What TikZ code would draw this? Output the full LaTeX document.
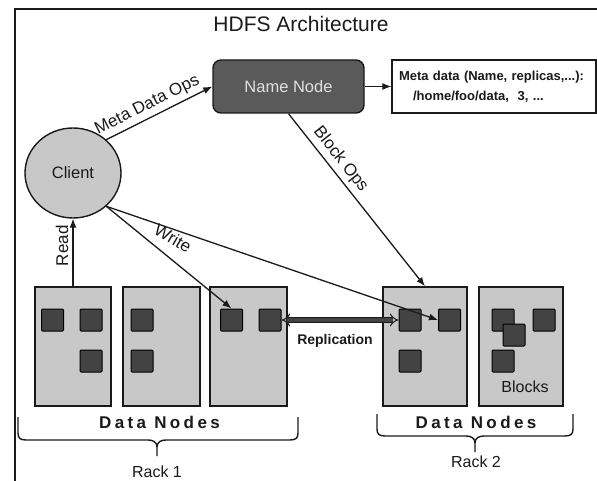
\documentclass[tikz,border=0pt]{standalone}
\usepackage{fontspec}
\setmainfont{Liberation Sans}
\usetikzlibrary{shapes.geometric,arrows.meta}
\definecolor{boxgray}{HTML}{C8C8C8}
\definecolor{blockgray}{HTML}{434343}
\definecolor{nngray}{HTML}{5A5A5A}
\definecolor{ink}{HTML}{1A1A1A}
\begin{document}
\begin{tikzpicture}[x=1pt,y=-1pt,
  frame/.style={draw=ink,line width=1.5pt},
  arr/.style={draw=ink,line width=1.3pt,-{Latex[length=9pt,width=7pt]}},
  dnode/.style={draw=ink,line width=1.4pt,fill=boxgray,minimum height=119pt,inner sep=0pt},
  blk/.style={draw=black,line width=1pt,fill=blockgray,minimum size=22pt,inner sep=0pt,rounded corners=1pt},
  lbl/.style={font=\fontsize{16}{19}\selectfont,text=ink,inner sep=2pt},
  edgelbl/.style={font=\fontsize{17}{20}\selectfont,text=ink,inner sep=4pt},
  dnlbl/.style={font=\fontsize{17}{20}\selectfont\bfseries\addfontfeature{LetterSpace=20},text=ink},
  bracepath/.style={draw=ink,line width=1.4pt}]
\useasboundingbox (0,0) rectangle (597,481);
% frame (left and top edges)
\draw[frame] (15,481) -- (15,9) -- (597,9);
% title
\node[font=\fontsize{21}{24}\selectfont,text=ink] (title) at (301,24) {HDFS Architecture};
% name node and meta data
\node[draw=ink,line width=1.4pt,fill=nngray,rounded corners=8pt,minimum width=151pt,minimum height=53pt,
      font=\fontsize{16.5}{19}\selectfont,text=white!88!black] (nn) at (288.5,86.5) {Name Node};
\node[draw=ink,line width=1.2pt,fill=white,minimum width=204pt,minimum height=53pt,text width=190pt,
      inner xsep=7pt,align=left,font=\fontsize{13}{20}\selectfont\bfseries,text=ink] (meta) at (494,86.5)
      {Meta data (Name, replicas,...):\\\hspace*{14pt}/home/foo/data,\ \ 3, ...};
% client
\node[ellipse,draw=ink,line width=1.4pt,fill=boxgray,minimum width=96pt,minimum height=90pt,
      font=\fontsize{16.5}{19}\selectfont,text=ink] (client) at (73,173) {Client};
% data nodes rack 1
\node[dnode,minimum width=76pt] (d1) at (73,346.5) {};
\node[dnode,minimum width=77pt] (d2) at (161.5,346.5) {};
\node[dnode,minimum width=77pt] (d3) at (248.5,346.5) {};
% data nodes rack 2
\node[dnode,minimum width=84pt] (d4) at (425,346.5) {};
\node[dnode,minimum width=84pt] (d5) at (521,346.5) {};
% blocks
\node[blk] (b11) at (52.5,320) {};
\node[blk] (b12) at (91,320) {};
\node[blk] (b13) at (91,361) {};
\node[blk] (b21) at (142,320) {};
\node[blk] (b22) at (142,361) {};
\node[blk] (b31) at (231.5,320) {};
\node[blk] (b32) at (270,320) {};
\node[blk] (b41) at (410,320) {};
\node[blk] (b42) at (449.5,320) {};
\node[blk] (b43) at (410,361) {};
\node[blk] (b51) at (503,320) {};
\node[blk] (b52) at (514,335) {};
\node[blk] (b53) at (544,320) {};
\node[blk] (b54) at (503,361) {};
\node[lbl] (blocks) at (525,387) {Blocks};
% connectors
\draw[arr] (client.45) -- node[edgelbl,pos=0.44,sloped,above] {Meta Data Ops} (nn.west);
\draw[arr] (nn.east) -- (meta.west);
\draw[arr] (nn.south) -- node[edgelbl,pos=0.31,sloped,above] {Block Ops} (d4.north);
\draw[arr] (client.-45) -- (b31.north);
\draw[arr] (client.-45) -- (b42.west);
\node[edgelbl,rotate=-30] (write) at (173,238) {Write};
\draw[arr] (d1.north) -- node[edgelbl,pos=0.6,sloped,above] {Read} (client.south);
\draw[draw=ink,line width=1pt,double=blockgray,double distance=3.5pt,{Implies}-{Implies}] (b32.east) -- (b41.west);
\node[font=\fontsize{14}{17}\selectfont\bfseries,text=ink] (repl) at (335,341) {Replication};
% data node labels and braces
\node[dnlbl] (dn1) at (159.5,422) {Data Nodes};
\node[dnlbl] (dn2) at (476,422) {Data Nodes};
\draw[bracepath] (18,417) -- (18,433) .. controls (18,438) and (20,440) .. (26,440) -- (148,440)
   .. controls (153,440) and (157,442) .. (157,447) -- (157,456);
\draw[bracepath] (298,417) -- (298,433) .. controls (298,438) and (296,440) .. (290,440) -- (166,440)
   .. controls (161,440) and (157,442) .. (157,447);
\draw[bracepath] (377,414) -- (377,429) .. controls (377,434) and (379,436) .. (385,436) -- (466,436)
   .. controls (471,436) and (475,438) .. (475,443) -- (475,452);
\draw[bracepath] (573,414) -- (573,429) .. controls (573,434) and (571,436) .. (565,436) -- (484,436)
   .. controls (479,436) and (475,438) .. (475,443);
\node[lbl] (rack1) at (157,472) {Rack 1};
\node[lbl] (rack2) at (476,462) {Rack 2};
\end{tikzpicture}
\end{document}
